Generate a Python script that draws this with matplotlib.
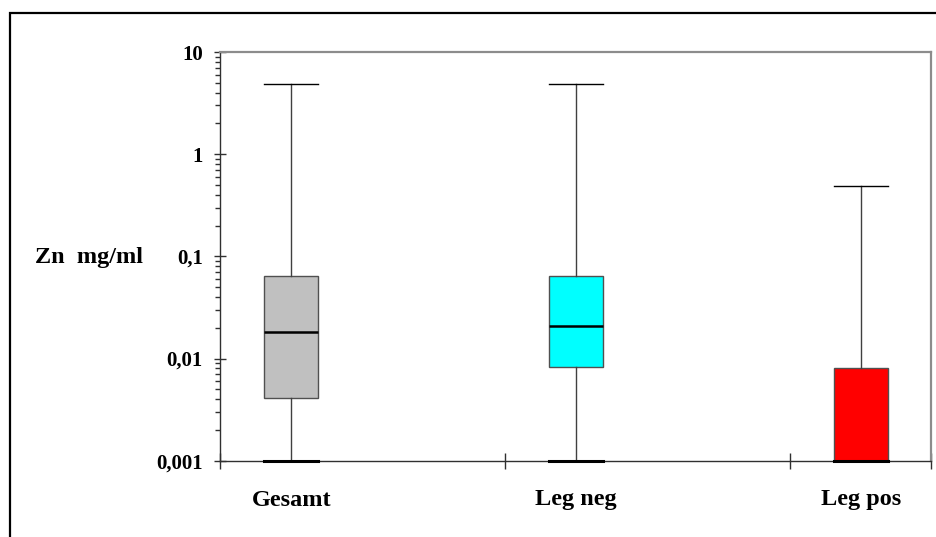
import matplotlib.pyplot as plt
import matplotlib.transforms as mtransforms
from matplotlib.patches import Rectangle
from matplotlib.ticker import FixedLocator, LogLocator, NullFormatter

# Zn concentration per group
groups = ["Gesamt", "Leg neg", "Leg pos"]
whis_lo = [0.001, 0.001, 0.001]
q1 = [0.0041, 0.0082, 0.001]
median = [0.0181, 0.0206, 0.001]
q3 = [0.064, 0.064, 0.0080]
whis_hi = [4.9, 4.9, 0.485]
colors = ["#c0c0c0", "#00ffff", "#ff0000"]

y_ticks = [0.001, 0.01, 0.1, 1, 10]
y_labels = ["0,001", "0,01", "0,1", "1", "10"]

serif = ["Liberation Serif", "DejaVu Serif"]

W, H = 937, 537
fig = plt.figure(figsize=(W / 100, H / 100), dpi=100)
fig.patch.set_facecolor("white")

# outer chart frame (runs off the right and bottom edges)
fig.patches.append(Rectangle((10 / W, -0.2), 1.2, 1 - 13 / H + 0.2,
                             transform=fig.transFigure, fill=False,
                             edgecolor="black", linewidth=1.6))

x0, x1, y0, y1 = 220, 931, 460.7, 52
ax = fig.add_axes([x0 / W, 1 - y0 / H, (x1 - x0) / W, (y0 - y1) / H])
ax.set_yscale("log")
ax.set_ylim(0.001, 10)
ax.set_xlim(0, 2.495)

stats = []
for i, g in enumerate(groups):
    stats.append(dict(label=g, whislo=whis_lo[i], q1=q1[i], med=median[i],
                      q3=q3[i], whishi=whis_hi[i], fliers=[]))

pos = [i + 0.25 for i in range(len(groups))]
bp = ax.bxp(stats, positions=pos, widths=0.19, patch_artist=True,
            showfliers=False, manage_ticks=False,
            boxprops=dict(edgecolor="#505050", linewidth=1.0),
            medianprops=dict(color="black", linewidth=1.8),
            whiskerprops=dict(color="#404040", linewidth=1.0),
            capprops=dict(color="black", linewidth=1.0),
            capwidths=0.19)
for patch, c in zip(bp["boxes"], colors):
    patch.set_facecolor(c)
# lower caps sit on the axis, drawn heavier
for cap in bp["caps"][0::2]:
    cap.set_linewidth(2.2)
    cap.set_zorder(5)
    cap.set_clip_on(False)

# axes frame
for s in ["top", "right"]:
    ax.spines[s].set_color("#8c8c8c")
    ax.spines[s].set_linewidth(1.6)
ax.spines["left"].set_color("#303030")
ax.spines["bottom"].set_color("#303030")
ax.spines["left"].set_linewidth(1.0)
ax.spines["bottom"].set_linewidth(1.0)

ax.yaxis.set_major_locator(FixedLocator(y_ticks))
ax.set_yticklabels(y_labels, fontfamily=serif, fontweight="bold", fontsize=15)
ax.yaxis.set_minor_locator(LogLocator(base=10, subs=range(2, 10)))
ax.yaxis.set_minor_formatter(NullFormatter())
ax.tick_params(axis="y", which="major", direction="inout", length=9,
               width=1.0, color="#303030", pad=8)
ax.tick_params(axis="y", which="minor", direction="out", length=3.5,
               width=1.0, color="#303030")

ax.set_xticks([0, 1, 2, 2.495])
ax.set_xticklabels([])
ax.tick_params(axis="x", which="major", direction="inout", length=11,
               width=1.0, color="#303030")

# category labels under each box
trans = mtransforms.blended_transform_factory(ax.transData, fig.transFigure)
for p, g in zip(pos, groups):
    ax.text(p, 1 - 500 / H, g, transform=trans, ha="center", va="center",
            fontfamily=serif, fontweight="bold", fontsize=17.5)

fig.text(35 / W, 1 - 257 / H, "Zn  mg/ml", ha="left", va="center",
         fontfamily=serif, fontweight="bold", fontsize=17.5)

fig.savefig("out.png", dpi=100)
